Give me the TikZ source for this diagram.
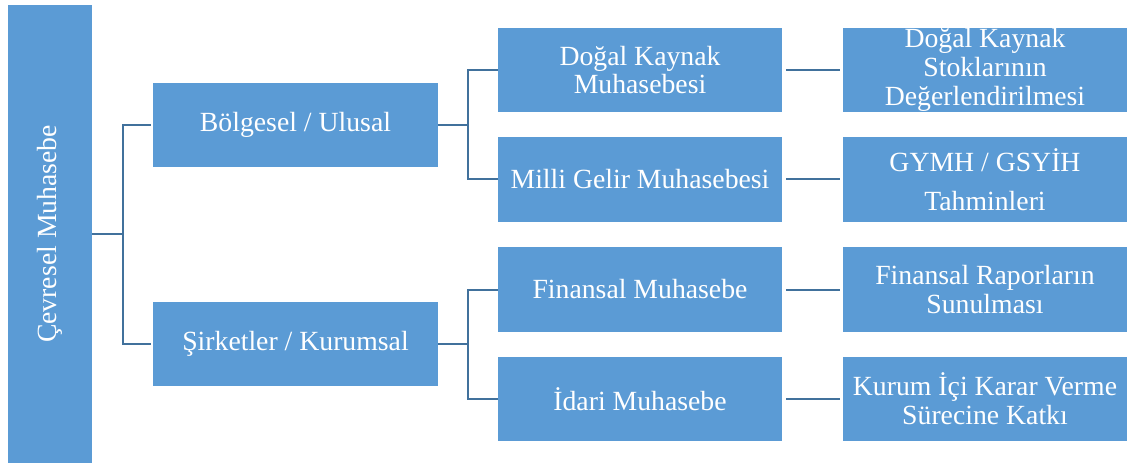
\documentclass[tikz,border=0pt]{standalone}
\usepackage{fontspec}
\setmainfont{Liberation Serif}
\usepackage{xcolor}
\definecolor{boxblue}{HTML}{5B9BD5}
\definecolor{lineblue}{HTML}{41719C}

\begin{document}
\begin{tikzpicture}[x=0.75pt,y=-0.75pt,
  box/.style={rectangle, fill=boxblue, text=white, align=center, inner sep=0pt,
    font=\fontsize{20.8}{21.5}\selectfont, minimum width=213pt, minimum height=63.5pt},
  conn/.style={draw=lineblue, line width=1.5pt}]
\useasboundingbox (0,0) rectangle (1127,463);

\node[box, minimum width=343.5pt, minimum height=63pt, rotate=90] (cevre) at (50,234) {Çevresel Muhasebe};

\node[box, minimum width=214pt] (bolge) at (295.5,125) {Bölgesel / Ulusal};
\node[box, minimum width=214pt] (sirket) at (295.5,344) {Şirketler / Kurumsal};

\node[box] (dogal) at (640,70) {Doğal Kaynak\\Muhasebesi};
\node[box] (milli) at (640,179.5) {Milli Gelir Muhasebesi};
\node[box] (finans) at (640,289.5) {Finansal Muhasebe};
\node[box] (idari) at (640,399) {İdari Muhasebe};

\node[box] (stok) at (985,70) {Doğal Kaynak\\Stoklarının\\Değerlendirilmesi};
\node[box] (gsyih) at (985,179.5) {GYMH / GSYİH\\[8pt]Tahminleri};
\node[box] (rapor) at (985,289.5) {Finansal Raporların\\Sunulması};
\node[box] (karar) at (985,399) {Kurum İçi Karar Verme\\Sürecine Katkı};

\coordinate (j0) at (123,234);
\coordinate (j1) at (468,125);
\coordinate (j2) at (468,344);

\draw[conn] (cevre.south) -- (j0);
\draw[conn, shorten >=1.5pt] (j0) |- (bolge.west);
\draw[conn, shorten >=1.5pt] (j0) |- (sirket.west);

\draw[conn] (bolge.east) -- (j1);
\draw[conn] (j1) |- (dogal.west);
\draw[conn] (j1) |- (milli.west);
\draw[conn] (sirket.east) -- (j2);
\draw[conn] (j2) |- (finans.west);
\draw[conn] (j2) |- (idari.west);

\draw[conn, shorten <=3pt, shorten >=2pt] (dogal) -- (stok);
\draw[conn, shorten <=3pt, shorten >=2pt] (milli) -- (gsyih);
\draw[conn, shorten <=3pt, shorten >=2pt] (finans) -- (rapor);
\draw[conn, shorten <=3pt, shorten >=2pt] (idari) -- (karar);
\end{tikzpicture}
\end{document}
